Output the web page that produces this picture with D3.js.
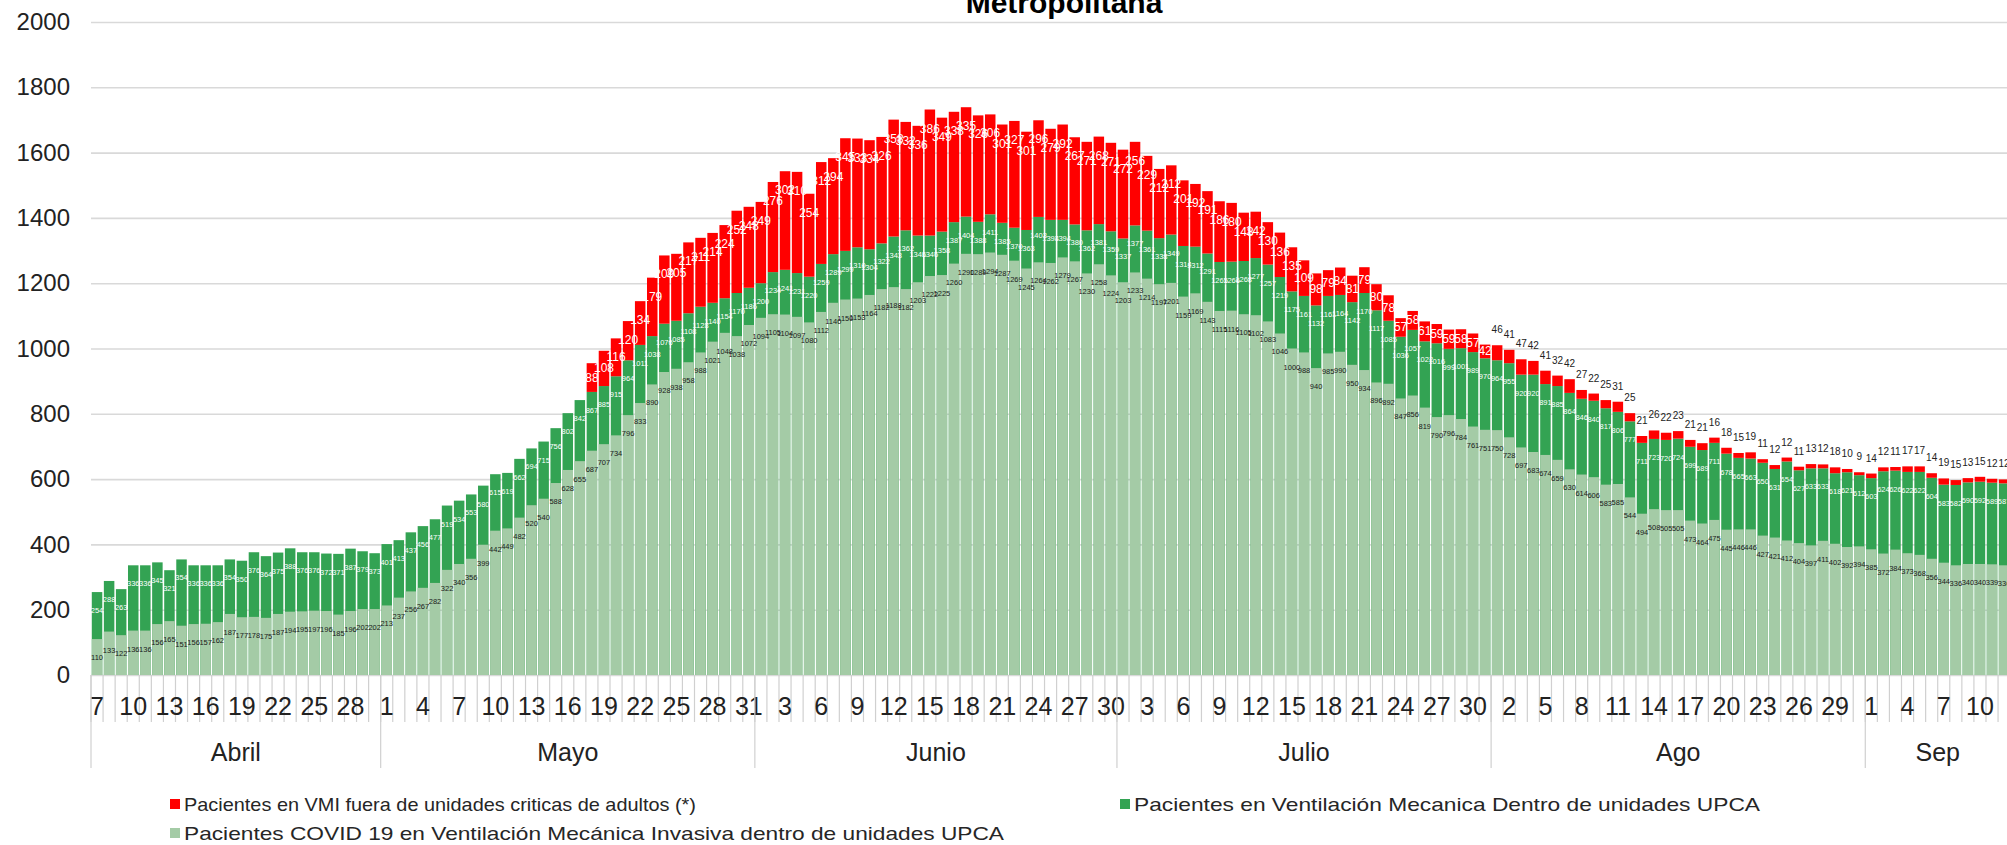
<!DOCTYPE html>
<html>
<head>
<meta charset="utf-8">
<script src="https://cdn.jsdelivr.net/npm/d3@7"></script>
<style>
    body {
        margin: 0;
        background: #ffffff;
    }
    .vm-chart text {
        font-family: 'Liberation Sans', Arial, sans-serif;
    }
    .vm-chart .value-label {
        font-family: 'Liberation Sans Narrow', 'Arial Narrow', 'Liberation Sans', sans-serif;
    }
</style>
</head>
<body>
<div id="chart"></div>
<script>

// first day shown on the category axis
var startDay = new Date(2020, 3, 7);

// Pacientes COVID 19 en VMI dentro de unidades UPCA (light green)
var covidUpca = [
    110, 133, 122, 136, 136, 156, 165, 151, 156, 157,
    162, 187, 177, 178, 175, 187, 194, 195, 197, 196,
    185, 196, 202, 202, 213, 237, 256, 267, 282, 322,
    340, 356, 399, 442, 449, 482, 520, 540, 588, 628,
    655, 687, 707, 734, 796, 833, 890, 928, 938, 958,
    988, 1021, 1048, 1038, 1072, 1094, 1105, 1104, 1097, 1080,
    1112, 1140, 1150, 1153, 1164, 1182, 1188, 1182, 1203, 1222,
    1225, 1260, 1290, 1289, 1294, 1287, 1269, 1245, 1264, 1262,
    1279, 1267, 1230, 1258, 1224, 1203, 1233, 1214, 1197, 1201,
    1159, 1169, 1143, 1115, 1116, 1105, 1102, 1083, 1046, 1000,
    988, 940, 985, 990, 950, 934, 896, 892, 847, 856,
    819, 790, 796, 784, 761, 751, 750, 728, 697, 683,
    674, 659, 630, 614, 606, 583, 585, 544, 494, 508,
    505, 505, 473, 464, 475, 445, 446, 446, 427, 421,
    412, 404, 397, 411, 402, 392, 394, 385, 372, 384,
    373, 368, 356, 344, 336, 340, 340, 339, 336
];

// Pacientes en Ventilacion Mecanica dentro de unidades UPCA (dark green, total)
var totalUpca = [
    254, 288, 263, 336, 336, 345, 321, 354, 336, 336,
    336, 354, 350, 376, 364, 375, 388, 376, 376, 372,
    371, 387, 379, 373, 401, 413, 437, 456, 477, 519,
    534, 553, 580, 615, 619, 662, 694, 715, 756, 802,
    842, 867, 885, 915, 964, 1011, 1038, 1076, 1085, 1108,
    1128, 1140, 1154, 1170, 1186, 1200, 1234, 1241, 1231, 1220,
    1259, 1289, 1299, 1310, 1304, 1322, 1343, 1362, 1346, 1346,
    1358, 1387, 1404, 1388, 1411, 1385, 1370, 1363, 1403, 1394,
    1394, 1380, 1362, 1381, 1359, 1337, 1377, 1361, 1338, 1349,
    1314, 1312, 1291, 1265, 1266, 1268, 1277, 1257, 1219, 1175,
    1161, 1132, 1161, 1164, 1142, 1170, 1117, 1085, 1036, 1057,
    1022, 1016, 999, 1001, 989, 970, 964, 955, 920, 920,
    891, 885, 864, 846, 840, 817, 806, 777, 711, 723,
    720, 724, 699, 689, 711, 678, 665, 663, 650, 631,
    654, 627, 633, 633, 618, 621, 612, 603, 624, 626,
    622, 622, 604, 583, 582, 590, 592, 589, 587
];

// Pacientes en VMI fuera de unidades criticas de adultos (red)
var fueraUpca = [
    0, 0, 0, 0, 0, 0, 0, 0, 0, 0,
    0, 0, 0, 0, 0, 0, 0, 0, 0, 0,
    0, 0, 0, 0, 0, 0, 0, 0, 0, 0,
    0, 0, 0, 0, 0, 0, 0, 0, 0, 0,
    0, 88, 108, 116, 120, 134, 179, 209, 205, 217,
    211, 214, 224, 252, 248, 249, 276, 302, 310, 254,
    312, 294, 345, 333, 334, 326, 358, 332, 336, 386,
    349, 338, 335, 326, 306, 301, 327, 301, 296, 279,
    292, 267, 271, 268, 271, 272, 256, 229, 212, 212,
    201, 192, 191, 186, 180, 148, 142, 130, 136, 135,
    109, 98, 79, 84, 81, 79, 80, 78, 57, 58,
    61, 59, 59, 58, 57, 42, 46, 41, 47, 42,
    41, 32, 42, 27, 22, 25, 31, 25, 21, 26,
    22, 23, 21, 21, 16, 18, 15, 19, 11, 12,
    12, 11, 13, 12, 18, 10, 9, 14, 12, 11,
    17, 17, 14, 19, 15, 13, 15, 12, 12
];

var yTickValues = [0, 200, 400, 600, 800, 1000, 1200, 1400, 1600, 1800, 2000];

var monthNames = ['Ene', 'Feb', 'Mar', 'Abril', 'Mayo', 'Junio', 'Julio', 'Ago', 'Sep', 'Oct', 'Nov', 'Dic'];

var seriesNames = [
    'Pacientes en VMI fuera de unidades criticas de adultos (*)',
    'Pacientes en Ventilación Mecanica Dentro de unidades UPCA',
    'Pacientes COVID 19 en Ventilación Mecánica Invasiva dentro de unidades UPCA'
];

var seriesColors = ['#ff0000', '#33a353', '#a4cba6'];


class VentilacionChart {


    constructor(config) {

        this._config = config;
        this._width = config.width;
        this._height = config.height;

        this._days = d3.range(covidUpca.length).map(function(i) {
            return d3.timeDay.offset(startDay, i);
        });

        this._margin = {
            left: 91,
            top: 22,
            bottom: 675
        };

        this._step = 12.07;
        this._gap = 0.13;
    }


    static getInstance(config) {

        return new VentilacionChart(config);
    }


    renderTo(selector) {

        this._svg = d3.select(selector)
            .append('svg')
            .attr('class', 'vm-chart')
            .attr('width', this._width)
            .attr('height', this._height);

        this._svg.append('rect')
            .attr('width', this._width)
            .attr('height', this._height)
            .style('fill', '#ffffff');

        this._drawGrid();
        this._drawBars();
        this._drawValueLabels();
        this._drawCategoryAxis();
        this._drawLegend();

        // only the lower part of the title is inside the picture
        this._svg.append('text')
            .attr('x', 1064)
            .attr('y', 13)
            .attr('text-anchor', 'middle')
            .style('font-size', '30px')
            .style('font-weight', 'bold')
            .style('fill', '#000000')
            .text('Metropolitana');

        return this;
    }


    _drawGrid() {

        var yScale = this._getYScale();

        var yAxis = this._svg.append('g')
            .attr('class', 'axis y-axis')
            .attr('transform', 'translate(' + this._margin.left + ',0)')
            .call(d3.axisLeft(yScale)
                .tickValues(yTickValues)
                .tickFormat(d3.format('d'))
                .tickSize(-(this._width - this._margin.left))
                .tickPadding(21)
            );

        yAxis.select('.domain').remove();

        yAxis.selectAll('line')
            .style('stroke', '#d9d9d9')
            .style('stroke-width', 1.6);

        yAxis.selectAll('text')
            .style('font-size', '24px')
            .style('fill', '#222222');
    }


    _drawBars() {

        var xScale = this._getXScale();
        var yScale = this._getYScale();
        var idx = d3.range(this._days.length);

        var bars = this._svg.append('g')
            .attr('class', 'bars');

        bars.selectAll('rect.total')
            .data(idx)
            .enter()
            .append('rect')
            .attr('class', 'total')
            .attr('x', d => xScale(d))
            .attr('width', xScale.bandwidth())
            .attr('y', d => yScale(totalUpca[d]))
            .attr('height', d => yScale(0) - yScale(totalUpca[d]))
            .style('fill', seriesColors[1]);

        bars.selectAll('rect.covid')
            .data(idx)
            .enter()
            .append('rect')
            .attr('class', 'covid')
            .attr('x', d => xScale(d))
            .attr('width', xScale.bandwidth())
            .attr('y', d => yScale(covidUpca[d]))
            .attr('height', d => yScale(0) - yScale(covidUpca[d]))
            .style('fill', seriesColors[2]);

        bars.selectAll('rect.fuera')
            .data(idx.filter(d => fueraUpca[d] > 0))
            .enter()
            .append('rect')
            .attr('class', 'fuera')
            .attr('x', d => xScale(d))
            .attr('width', xScale.bandwidth())
            .attr('y', d => yScale(totalUpca[d] + fueraUpca[d]))
            .attr('height', d => yScale(totalUpca[d]) - yScale(totalUpca[d] + fueraUpca[d]))
            .style('fill', seriesColors[0]);
    }


    _drawValueLabels() {

        var xScale = this._getXScale();
        var yScale = this._getYScale();
        var half = xScale.bandwidth() / 2;
        var idx = d3.range(this._days.length);

        var labels = this._svg.append('g')
            .attr('class', 'value-labels')
            .attr('text-anchor', 'middle');

        labels.selectAll('text.covid-label')
            .data(idx)
            .enter()
            .append('text')
            .attr('class', 'value-label')
            .attr('x', d => xScale(d) + half)
            .attr('y', d => yScale(covidUpca[d]) + 21)
            .style('font-size', '7.5px')
            .style('fill', '#1a1a1a')
            .text(d => covidUpca[d]);

        labels.selectAll('text.total-label')
            .data(idx)
            .enter()
            .append('text')
            .attr('class', 'value-label')
            .attr('x', d => xScale(d) + half)
            .attr('y', d => yScale(totalUpca[d]) + 21)
            .style('font-size', '7.5px')
            .style('fill', '#ffffff')
            .text(d => totalUpca[d]);

        // red values: inside in white while the segment is tall, black above it from August on
        labels.selectAll('text.fuera-label')
            .data(idx.filter(d => fueraUpca[d] > 0))
            .enter()
            .append('text')
            .attr('class', 'value-label')
            .attr('x', d => xScale(d) + half)
            .attr('y', function(d) {
                var top = yScale(totalUpca[d] + fueraUpca[d]);
                var h = yScale(totalUpca[d]) - top;
                if (fueraUpca[d] < 50 && d > 115) return top - 12;
                return top + Math.min(23, h / 2 + 4);
            })
            .style('font-size', d => fueraUpca[d] < 50 && d > 115 ? '10px' : '12px')
            .style('fill', d => fueraUpca[d] < 50 && d > 115 ? '#222222' : '#ffffff')
            .text(d => fueraUpca[d]);
    }


    _drawCategoryAxis() {

        var xScale = this._getXScale();
        var step = this._step;
        var left = this._margin.left;
        var base = this._margin.bottom;
        var n = this._days.length;

        var axis = this._svg.append('g')
            .attr('class', 'axis x-axis');

        axis.selectAll('line.tick')
            .data(d3.range(n + 1))
            .enter()
            .append('line')
            .attr('x1', k => left + k * step)
            .attr('x2', k => left + k * step)
            .attr('y1', base)
            .attr('y2', base + 47)
            .style('stroke', '#d0d0d0')
            .style('stroke-width', 1.2);

        axis.selectAll('text.day')
            .data(d3.range(0, n, 3))
            .enter()
            .append('text')
            .attr('x', d => xScale(d) + xScale.bandwidth() / 2)
            .attr('y', base + 40)
            .attr('text-anchor', 'middle')
            .style('font-size', '25px')
            .style('fill', '#222222')
            .text(d => this._days[d].getDate());

        var months = d3.groups(d3.range(n), d => this._days[d].getMonth());

        axis.selectAll('line.month')
            .data(months.map(m => m[1][0]).concat([n]))
            .enter()
            .append('line')
            .attr('x1', k => left + k * step)
            .attr('x2', k => left + k * step)
            .attr('y1', base)
            .attr('y2', base + 93)
            .style('stroke', '#d0d0d0')
            .style('stroke-width', 1.2);

        axis.selectAll('text.month')
            .data(months)
            .enter()
            .append('text')
            .attr('x', m => left + (m[1][0] + m[1].length / 2) * step)
            .attr('y', base + 86)
            .attr('text-anchor', 'middle')
            .style('font-size', '25px')
            .style('fill', '#222222')
            .text(m => monthNames[m[0]]);
    }


    _drawLegend() {

        // legend entries keep the stretched width they have in the source picture
        var slots = [
            { x: 170, y: 804, w: 512 },
            { x: 1120, y: 804, w: 626 },
            { x: 170, y: 833, w: 820 }
        ];

        var items = this._svg.append('g')
            .attr('class', 'legend')
            .selectAll('g')
            .data(seriesNames)
            .enter()
            .append('g')
            .attr('transform', (d, i) => 'translate(' + [slots[i].x, slots[i].y] + ')');

        items.append('rect')
            .attr('x', 0)
            .attr('y', -5)
            .attr('width', 10)
            .attr('height', 10)
            .style('fill', (d, i) => seriesColors[i]);

        items.append('text')
            .attr('x', 14)
            .attr('y', 7)
            .attr('textLength', (d, i) => slots[i].w)
            .attr('lengthAdjust', 'spacingAndGlyphs')
            .style('font-size', '19px')
            .style('fill', '#262626')
            .text(d => d);
    }


    _getXScale() {

        var n = this._days.length;

        return d3.scaleBand()
            .domain(d3.range(n))
            .range([this._margin.left, this._margin.left + n * this._step])
            .paddingInner(this._gap)
            .paddingOuter(this._gap / 2);
    }


    _getYScale() {

        return d3.scaleLinear()
            .domain([0, 2000])
            .range([this._margin.bottom, this._margin.top]);
    }
}


VentilacionChart.getInstance({ width: 2007, height: 845 }).renderTo('#chart');

</script>
</body>
</html>
